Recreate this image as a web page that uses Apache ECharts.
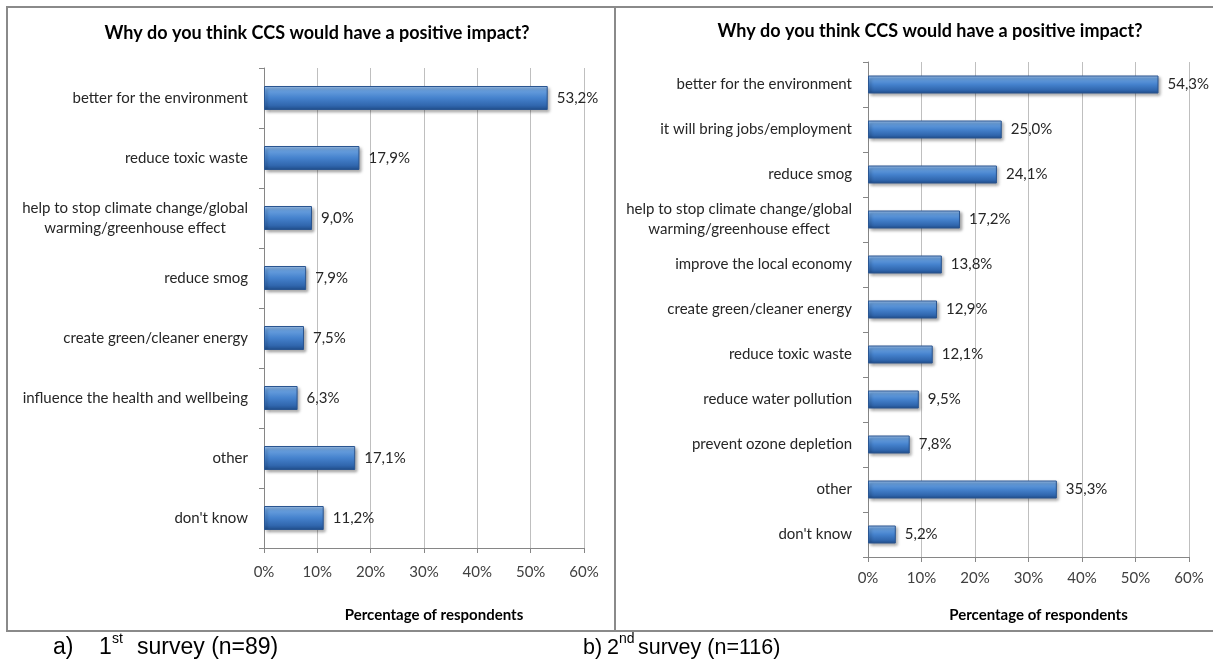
<!DOCTYPE html>
<html>
<head>
<meta charset="utf-8">
<script src="https://cdn.jsdelivr.net/npm/echarts@6/dist/echarts.min.js"></script>
<style>
  html, body { margin: 0; padding: 0; background: #ffffff; }
  #chart { width: 1213px; height: 661px; }
</style>
</head>
<body>
<div id="chart"></div>
<script>
// First survey (n=89)
const survey1Categories = [
  'better for the environment',
  'reduce toxic waste',
  'help to stop climate change/global\nwarming/greenhouse effect',
  'reduce smog',
  'create green/cleaner energy',
  'influence the health and wellbeing',
  'other',
  "don't know"
];
const survey1Values = [53.2, 17.9, 9.0, 7.9, 7.5, 6.3, 17.1, 11.2];

// Second survey (n=116)
const survey2Categories = [
  'better for the environment',
  'it will bring jobs/employment',
  'reduce smog',
  'help to stop climate change/global\nwarming/greenhouse effect',
  'improve the local economy',
  'create green/cleaner energy',
  'reduce toxic waste',
  'reduce water pollution',
  'prevent ozone depletion',
  'other',
  "don't know"
];
const survey2Values = [54.3, 25.0, 24.1, 17.2, 13.8, 12.9, 12.1, 9.5, 7.8, 35.3, 5.2];

const percentTicks = [0, 10, 20, 30, 40, 50, 60];
const chartTitle = 'Why do you think CCS would have a positive impact?';
const axisTitle = 'Percentage of respondents';

const FONT = 'Lato, "Open Sans", sans-serif';
const chart = echarts.init(document.getElementById('chart'), null, { renderer: 'canvas' });

const barFill = new echarts.graphic.LinearGradient(0, 0, 0, 1, [
  { offset: 0, color: '#a4c7f0' },
  { offset: 0.18, color: '#689fde' },
  { offset: 0.5, color: '#4582cd' },
  { offset: 0.82, color: '#3066ad' },
  { offset: 1, color: '#1f4c88' }
]);

function categoryLabel(text) {
  return text.split('\n').map(l => '{c|' + l + '}').join('\n');
}

function xAxisFor(gridIndex, labelMargin, nameGap) {
  return {
    type: 'value', gridIndex, min: 0, max: 60, interval: 10,
    axisLine: { show: true, lineStyle: { color: '#868686', width: 1 } },
    axisTick: { show: true, length: 5, lineStyle: { color: '#868686' } },
    splitLine: { show: true, lineStyle: { color: '#bfbfbf', width: 1 } },
    axisLabel: {
      margin: labelMargin, fontFamily: FONT, fontSize: 15, color: '#404040',
      formatter: v => (percentTicks.includes(v) ? v + '%' : '')
    },
    name: axisTitle, nameLocation: 'middle', nameGap,
    nameTextStyle: { fontFamily: FONT, fontSize: 15, fontWeight: 'bold', color: '#000000',
      padding: [0, 0, 0, 20] }
  };
}

function yAxisFor(gridIndex, cats) {
  return {
    type: 'category', gridIndex, data: cats, inverse: true,
    axisLine: { show: true, lineStyle: { color: '#868686', width: 1 } },
    axisTick: { show: true, length: 5, alignWithLabel: false, lineStyle: { color: '#868686' } },
    splitLine: { show: false },
    axisLabel: {
      margin: 16, color: '#262626', fontFamily: FONT, fontSize: 15,
      formatter: categoryLabel,
      rich: { c: { align: 'center', fontFamily: FONT, fontSize: 15, color: '#262626', lineHeight: 20 } }
    }
  };
}

function seriesFor(idx, values) {
  return {
    type: 'bar', xAxisIndex: idx, yAxisIndex: idx, data: values,
    barCategoryGap: '60%',
    itemStyle: {
      color: barFill, borderColor: '#2a5590', borderWidth: 1,
      shadowColor: 'rgba(0,0,0,0.35)', shadowBlur: 3, shadowOffsetX: 2, shadowOffsetY: 2
    },
    label: {
      show: true, position: 'right', distance: 9,
      fontFamily: FONT, fontSize: 15, color: '#262626',
      formatter: p => p.value.toFixed(1).replace('.', ',') + '%'
    },
    silent: true, animation: false
  };
}

// caption line: "a)  1st survey (n=89)" with a raised ordinal suffix
function caption(y, size, parts) {
  const st = { fontFamily: '"Liberation Sans", Arial, sans-serif', fill: '#000000', textVerticalAlign: 'middle' };
  return parts.map(p => ({
    type: 'text', x: p.x, y: p.sup ? y - 9 : y,
    style: Object.assign({ text: p.text, fontSize: p.sup ? 14 : size }, st)
  }));
}

const option = {
  backgroundColor: '#ffffff',
  animation: false,
  grid: [
    { left: 264, right: 1213 - 584, top: 68, height: 480 },
    { left: 868, right: 1213 - 1189, top: 62, height: 495 }
  ],
  xAxis: [xAxisFor(0, 17, 60), xAxisFor(1, 14, 51)],
  yAxis: [yAxisFor(0, survey1Categories), yAxisFor(1, survey2Categories)],
  series: [seriesFor(0, survey1Values), seriesFor(1, survey2Values)],
  graphic: [
    // panel frames
    { type: 'rect', shape: { x: 7, y: 7, width: 1215, height: 624 },
      style: { fill: 'none', stroke: '#8a8a8a', lineWidth: 2 }, silent: true },
    { type: 'line', shape: { x1: 615, y1: 7, x2: 615, y2: 631 },
      style: { stroke: '#8a8a8a', lineWidth: 2 }, silent: true },
    // panel titles
    { type: 'text', x: 317, y: 33, style: { text: chartTitle, fontFamily: FONT, fontSize: 18, fontWeight: 'bold',
      fill: '#000000', textAlign: 'center', textVerticalAlign: 'middle' } },
    { type: 'text', x: 930, y: 31, style: { text: chartTitle, fontFamily: FONT, fontSize: 18, fontWeight: 'bold',
      fill: '#000000', textAlign: 'center', textVerticalAlign: 'middle' } }
  ]
    .concat(caption(648, 23, [
      { x: 53, text: 'a)' }, { x: 99, text: '1' }, { x: 112, text: 'st', sup: true }, { x: 137, text: 'survey (n=89)' }
    ]))
    .concat(caption(648, 21.5, [
      { x: 583, text: 'b)' }, { x: 607, text: '2' }, { x: 619, text: 'nd', sup: true }, { x: 638, text: 'survey (n=116)' }
    ]))
};

chart.setOption(option);
</script>
</body>
</html>
